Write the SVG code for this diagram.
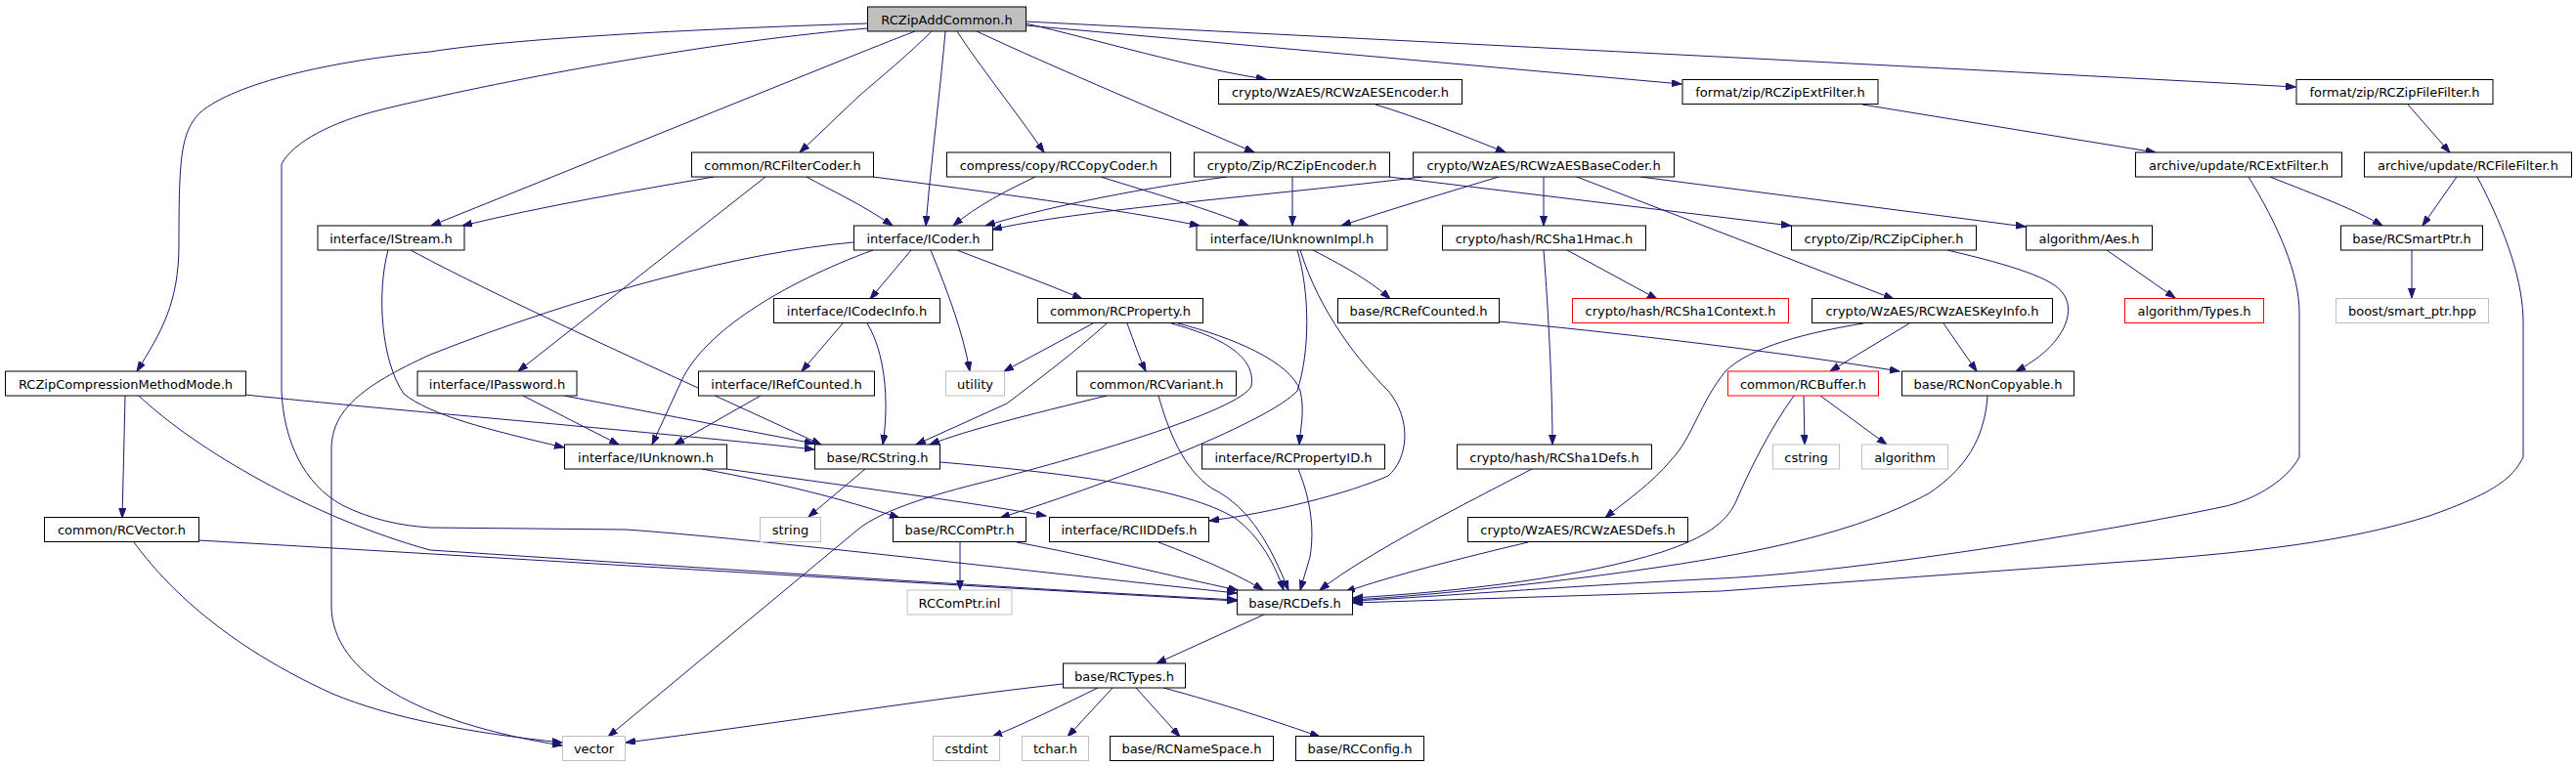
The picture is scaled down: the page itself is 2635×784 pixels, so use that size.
<svg xmlns="http://www.w3.org/2000/svg" width="2635" height="784" viewBox="0 0 2635 784">
<defs>
<marker id="a" markerUnits="userSpaceOnUse" markerWidth="11" markerHeight="8" refX="10" refY="3.5" orient="auto"><path d="M0,0 L10,3.5 L0,7 z" fill="#191970" stroke="#191970" stroke-width="1"/></marker>
</defs>
<style>
.n rect{fill:#fff;stroke:#000;stroke-width:1}
.n.m rect{fill:#bfbfbf}
.n.g rect{stroke:#bfbfbf}
.n.r rect{stroke:#ff0000}
.n text{font-family:"DejaVu Sans",sans-serif;font-size:13px;text-anchor:middle;fill:#000}
#edges path{fill:none;stroke:#191970;stroke-width:1;marker-end:url(#a)}
</style>
<rect width="2635" height="784" fill="#fff"/>
<g id="edges">
<path d="M887,24 C700,30 520,40 440,53 C340,62 240,85 205,115 C185,135 183,160 183,250 C183,310 165,340 140,380"/>
<path d="M887,29 C700,45 480,90 387,113 C340,125 300,145 288,168 L288,400 C290,450 310,495 350,517 C380,532 410,538 440,540 L640,542 C760,550 1100,590 1265,607"/>
<path d="M936,32 C910,42 890,50 880,54 L441,231"/>
<path d="M953,32 C930,55 900,80 880,97 L818,156"/>
<path d="M967,32 C962,90 952,170 947,231"/>
<path d="M979,32 C1000,65 1040,115 1068,156"/>
<path d="M999,32 C1080,70 1200,120 1283,156"/>
<path d="M1049,24 C1120,40 1220,70 1295,81"/>
<path d="M1049,26 L1720,86"/>
<path d="M1049,22 C1500,45 2000,70 2348,89"/>
<path d="M1407,107 C1450,120 1500,140 1540,156"/>
<path d="M1905,107 L2205,156"/>
<path d="M2463,107 L2506,156"/>
<path d="M730,181 C650,195 560,210 473,231"/>
<path d="M825,181 C850,195 880,208 913,231"/>
<path d="M783,181 L530,380"/>
<path d="M893,181 C1000,195 1150,215 1227,231"/>
<path d="M1059,181 C1030,195 1000,210 975,231"/>
<path d="M1126,181 C1180,198 1240,215 1277,231"/>
<path d="M1255,181 C1150,195 1060,215 1008,231"/>
<path d="M1322,181 L1322,231"/>
<path d="M1421,181 L1832,231"/>
<path d="M1455,181 C1300,200 1100,215 1015,235"/>
<path d="M1533,181 C1480,197 1420,215 1372,231"/>
<path d="M1579,181 L1579,231"/>
<path d="M1613,181 L1937,306"/>
<path d="M1678,181 L2072,232"/>
<path d="M2322,181 C2370,200 2410,215 2437,231"/>
<path d="M2300,181 C2330,230 2352,280 2352,320 L2352,468 C2340,490 2310,510 2277,518 C2150,545 1900,585 1760,592 C1600,600 1480,610 1384,615"/>
<path d="M2513,181 L2478,231"/>
<path d="M2534,181 C2565,240 2581,290 2581,330 L2581,468 C2570,490 2550,505 2485,528 C2400,555 2300,565 2200,573 L1760,605 L1384,617"/>
<path d="M2467,256 L2467,305"/>
<path d="M397,256 C385,300 390,370 413,403 C440,425 500,440 577,458"/>
<path d="M420,256 C520,310 700,390 840,455"/>
<path d="M932,256 L890,306"/>
<path d="M952,256 C970,300 985,340 992,380"/>
<path d="M979,256 C1020,272 1070,290 1107,306"/>
<path d="M893,256 C800,290 720,340 697,390 L667,455"/>
<path d="M873,248 C760,258 600,300 440,363 C370,395 339,420 339,460 L339,620 C339,690 430,740 575,763"/>
<path d="M1343,256 C1380,275 1405,290 1422,306"/>
<path d="M1327,256 C1340,300 1340,360 1327,400 C1300,430 1150,490 1023,530"/>
<path d="M1330,256 C1350,320 1390,370 1420,400 C1445,430 1440,470 1420,487 C1380,505 1300,525 1237,533"/>
<path d="M1603,256 L1695,306"/>
<path d="M1579,256 C1584,320 1588,400 1588,455"/>
<path d="M1992,256 C2060,272 2100,285 2110,300 C2125,320 2110,355 2062,380"/>
<path d="M2155,256 L2225,305"/>
<path d="M862,331 L820,380"/>
<path d="M887,331 C905,360 910,410 903,455"/>
<path d="M1118,331 L1027,380"/>
<path d="M1132,331 C1100,360 1060,390 1030,413 L937,455"/>
<path d="M1153,331 C1160,350 1165,365 1172,380"/>
<path d="M1205,331 C1260,345 1320,370 1330,400 C1335,420 1330,440 1329,455"/>
<path d="M1198,331 C1250,345 1285,365 1280,395 C1270,420 1100,470 1000,495 C940,510 900,525 880,540 L622,754"/>
<path d="M1533,329 C1700,345 1850,365 1943,380"/>
<path d="M1906,331 C1850,340 1790,355 1765,380 C1740,410 1730,450 1710,470 C1690,495 1660,515 1642,530"/>
<path d="M1953,331 L1872,380"/>
<path d="M1988,331 L2022,380"/>
<path d="M1835,405 C1810,440 1790,480 1775,515 C1765,535 1745,550 1700,565 C1620,590 1500,605 1384,612"/>
<path d="M2033,405 C2030,450 2010,480 1973,505 C1900,545 1800,565 1700,580 C1600,595 1480,608 1384,614"/>
<path d="M1845,405 L1846,455"/>
<path d="M1862,405 L1930,455"/>
<path d="M128,405 C127,450 126,490 125,530"/>
<path d="M142,405 C200,460 320,530 440,563 C700,580 1000,600 1265,614"/>
<path d="M251,404 C400,420 650,440 833,460"/>
<path d="M203,553 C500,570 900,595 1265,615"/>
<path d="M137,555 C170,600 230,660 340,710 C400,735 480,750 575,760"/>
<path d="M535,405 L633,455"/>
<path d="M577,405 L833,454"/>
<path d="M778,405 L690,455"/>
<path d="M1132,405 C1050,425 990,440 951,455"/>
<path d="M1185,405 C1195,440 1210,480 1240,500 C1280,520 1300,560 1318,604"/>
<path d="M718,480 C800,495 860,510 920,530"/>
<path d="M743,480 C850,495 1000,515 1070,528"/>
<path d="M885,480 L827,529"/>
<path d="M962,473 C1100,485 1213,500 1263,530 C1290,550 1305,580 1313,604"/>
<path d="M1328,480 C1340,510 1345,540 1340,570 L1330,604"/>
<path d="M1567,480 C1500,515 1400,565 1350,604"/>
<path d="M982,555 L982,604"/>
<path d="M1040,555 C1120,570 1200,590 1266,604"/>
<path d="M1185,555 C1230,572 1270,590 1292,604"/>
<path d="M1563,555 C1500,570 1420,590 1376,606"/>
<path d="M1293,629 L1183,679"/>
<path d="M1087,700 C950,715 800,740 640,760"/>
<path d="M1123,704 C1090,720 1050,740 1015,754"/>
<path d="M1138,704 L1092,754"/>
<path d="M1162,704 L1207,754"/>
<path d="M1190,704 C1250,720 1310,740 1350,754"/>
</g>
<g id="n0" class="n m"><rect x="887.5" y="7" width="162" height="25"/><text x="968.5" y="24.5">RCZipAddCommon.h</text></g>
<g id="n1" class="n"><rect x="1246.5" y="81.5" width="249" height="25"/><text x="1371" y="99">crypto/WzAES/RCWzAESEncoder.h</text></g>
<g id="n2" class="n"><rect x="1721" y="81.5" width="200" height="25"/><text x="1821" y="99">format/zip/RCZipExtFilter.h</text></g>
<g id="n3" class="n"><rect x="2349" y="81.5" width="201" height="25"/><text x="2449.5" y="99">format/zip/RCZipFileFilter.h</text></g>
<g id="n4" class="n"><rect x="707.5" y="156" width="186" height="25"/><text x="800.5" y="173.5">common/RCFilterCoder.h</text></g>
<g id="n5" class="n"><rect x="968.5" y="156" width="229" height="25"/><text x="1083" y="173.5">compress/copy/RCCopyCoder.h</text></g>
<g id="n6" class="n"><rect x="1221.5" y="156" width="200" height="25"/><text x="1321.5" y="173.5">crypto/Zip/RCZipEncoder.h</text></g>
<g id="n7" class="n"><rect x="1445.5" y="156" width="267" height="25"/><text x="1579" y="173.5">crypto/WzAES/RCWzAESBaseCoder.h</text></g>
<g id="n8" class="n"><rect x="2184.5" y="156" width="211" height="25"/><text x="2290" y="173.5">archive/update/RCExtFilter.h</text></g>
<g id="n9" class="n"><rect x="2418.5" y="156" width="212" height="25"/><text x="2524.5" y="173.5">archive/update/RCFileFilter.h</text></g>
<g id="n10" class="n"><rect x="325" y="231" width="150" height="25"/><text x="400" y="248.5">interface/IStream.h</text></g>
<g id="n11" class="n"><rect x="873.5" y="231" width="142" height="25"/><text x="944.5" y="248.5">interface/ICoder.h</text></g>
<g id="n12" class="n"><rect x="1224" y="231" width="195" height="25"/><text x="1321.5" y="248.5">interface/IUnknownImpl.h</text></g>
<g id="n13" class="n"><rect x="1475.5" y="231" width="208" height="25"/><text x="1579.5" y="248.5">crypto/hash/RCSha1Hmac.h</text></g>
<g id="n14" class="n"><rect x="1832.5" y="231" width="189" height="25"/><text x="1927" y="248.5">crypto/Zip/RCZipCipher.h</text></g>
<g id="n15" class="n"><rect x="2072.5" y="231" width="129" height="25"/><text x="2137" y="248.5">algorithm/Aes.h</text></g>
<g id="n16" class="n"><rect x="2394.5" y="231" width="145" height="25"/><text x="2467" y="248.5">base/RCSmartPtr.h</text></g>
<g id="n17" class="n"><rect x="791.5" y="305.5" width="170" height="25"/><text x="876.5" y="323">interface/ICodecInfo.h</text></g>
<g id="n18" class="n"><rect x="1061.5" y="305.5" width="169" height="25"/><text x="1146" y="323">common/RCProperty.h</text></g>
<g id="n19" class="n"><rect x="1368.5" y="305.5" width="165" height="25"/><text x="1451" y="323">base/RCRefCounted.h</text></g>
<g id="n20" class="n r"><rect x="1608.5" y="305.5" width="221" height="25"/><text x="1719" y="323">crypto/hash/RCSha1Context.h</text></g>
<g id="n21" class="n"><rect x="1853.5" y="305.5" width="246" height="25"/><text x="1976.5" y="323">crypto/WzAES/RCWzAESKeyInfo.h</text></g>
<g id="n22" class="n r"><rect x="2173.5" y="305.5" width="142" height="25"/><text x="2244.5" y="323">algorithm/Types.h</text></g>
<g id="n23" class="n g"><rect x="2389.5" y="305.5" width="156" height="25"/><text x="2467.5" y="323">boost/smart_ptr.hpp</text></g>
<g id="n24" class="n"><rect x="5.5" y="380" width="246" height="25"/><text x="128.5" y="397.5">RCZipCompressionMethodMode.h</text></g>
<g id="n25" class="n"><rect x="427" y="380" width="163" height="25"/><text x="508.5" y="397.5">interface/IPassword.h</text></g>
<g id="n26" class="n"><rect x="714.5" y="380" width="180" height="25"/><text x="804.5" y="397.5">interface/IRefCounted.h</text></g>
<g id="n27" class="n g"><rect x="967.5" y="380" width="60" height="25"/><text x="997.5" y="397.5">utility</text></g>
<g id="n28" class="n"><rect x="1101.5" y="380" width="163" height="25"/><text x="1183" y="397.5">common/RCVariant.h</text></g>
<g id="n29" class="n r"><rect x="1767.5" y="380" width="154" height="25"/><text x="1844.5" y="397.5">common/RCBuffer.h</text></g>
<g id="n30" class="n"><rect x="1945.5" y="380" width="176" height="25"/><text x="2033.5" y="397.5">base/RCNonCopyable.h</text></g>
<g id="n31" class="n"><rect x="577.5" y="455" width="166" height="25"/><text x="660.5" y="472.5">interface/IUnknown.h</text></g>
<g id="n32" class="n"><rect x="833.5" y="455" width="128" height="25"/><text x="897.5" y="472.5">base/RCString.h</text></g>
<g id="n33" class="n"><rect x="1229.5" y="455" width="187" height="25"/><text x="1323" y="472.5">interface/RCPropertyID.h</text></g>
<g id="n34" class="n"><rect x="1490.5" y="455" width="199" height="25"/><text x="1590" y="472.5">crypto/hash/RCSha1Defs.h</text></g>
<g id="n35" class="n g"><rect x="1813.5" y="455" width="68" height="25"/><text x="1847.5" y="472.5">cstring</text></g>
<g id="n36" class="n g"><rect x="1904.5" y="455" width="88" height="25"/><text x="1948.5" y="472.5">algorithm</text></g>
<g id="n37" class="n"><rect x="45.5" y="529.5" width="158" height="25"/><text x="124.5" y="547">common/RCVector.h</text></g>
<g id="n38" class="n g"><rect x="777.5" y="529.5" width="62" height="25"/><text x="808.5" y="547">string</text></g>
<g id="n39" class="n"><rect x="913.5" y="529.5" width="136" height="25"/><text x="981.5" y="547">base/RCComPtr.h</text></g>
<g id="n40" class="n"><rect x="1073.5" y="529.5" width="163" height="25"/><text x="1155" y="547">interface/RCIIDDefs.h</text></g>
<g id="n41" class="n"><rect x="1501.5" y="529.5" width="225" height="25"/><text x="1614" y="547">crypto/WzAES/RCWzAESDefs.h</text></g>
<g id="n42" class="n g"><rect x="928" y="604" width="107" height="25"/><text x="981.5" y="621.5">RCComPtr.inl</text></g>
<g id="n43" class="n"><rect x="1265.5" y="604" width="118" height="25"/><text x="1324.5" y="621.5">base/RCDefs.h</text></g>
<g id="n44" class="n"><rect x="1087.5" y="679" width="125" height="25"/><text x="1150" y="696.5">base/RCTypes.h</text></g>
<g id="n45" class="n g"><rect x="575.5" y="753.5" width="64" height="25"/><text x="607.5" y="771">vector</text></g>
<g id="n46" class="n g"><rect x="954.5" y="753.5" width="68" height="25"/><text x="988.5" y="771">cstdint</text></g>
<g id="n47" class="n g"><rect x="1045.5" y="753.5" width="68" height="25"/><text x="1079.5" y="771">tchar.h</text></g>
<g id="n48" class="n"><rect x="1135.5" y="753.5" width="167" height="25"/><text x="1219" y="771">base/RCNameSpace.h</text></g>
<g id="n49" class="n"><rect x="1325.5" y="753.5" width="131" height="25"/><text x="1391" y="771">base/RCConfig.h</text></g>
</svg>
